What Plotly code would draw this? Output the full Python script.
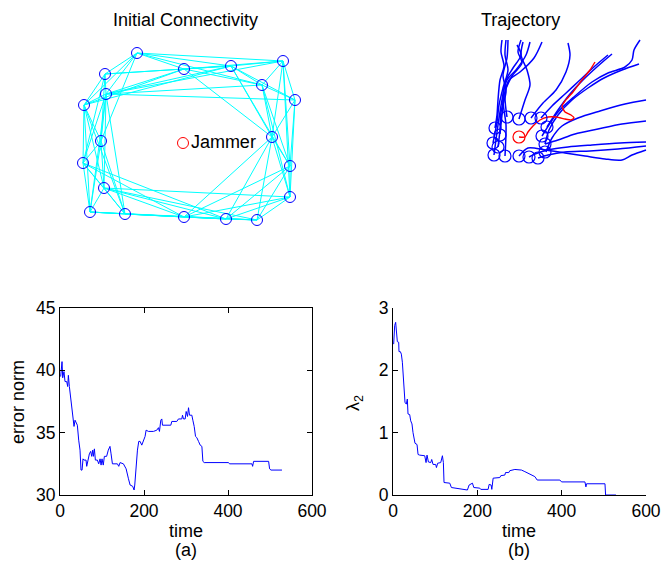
import plotly.graph_objects as go

FONT = "Liberation Sans, Arial, sans-serif"
W, H = 665, 565
OFF = 0

# ---------------- Initial connectivity (node positions) ----------------
node_x = [137, 105, 106, 84, 101, 83, 104, 90, 125, 184, 226, 257, 290, 290, 272, 295, 262, 283, 231, 184]
node_y = [53, 74, 94, 105, 141, 163, 188, 212, 214, 217, 219, 220, 197, 166, 137, 100, 85, 61, 66, 69]
edges = [(0, 1), (0, 2), (0, 3), (0, 4), (1, 2), (1, 3), (1, 4), (1, 5), (2, 3), (2, 4), (2, 5), (2, 6),
         (2, 7), (2, 8), (3, 4), (3, 5), (3, 6), (3, 7), (3, 8), (4, 5), (4, 6), (4, 7), (4, 8), (5, 6),
         (5, 7), (5, 8), (6, 7), (6, 8), (7, 8),
         (5, 9), (5, 10), (6, 9), (6, 10), (6, 11), (6, 12), (7, 9), (7, 10), (7, 11), (8, 9), (8, 10),
         (8, 11), (9, 10), (9, 11), (10, 11), (9, 12), (9, 13), (9, 14), (10, 12), (10, 13), (10, 14),
         (11, 12), (11, 13), (11, 14),
         (12, 13), (12, 14), (12, 15), (12, 16), (12, 17), (13, 14), (13, 15), (13, 16), (13, 17),
         (13, 18), (14, 15), (14, 16), (14, 17), (14, 18), (14, 19), (15, 16), (15, 17), (15, 18),
         (16, 17), (16, 18), (16, 19), (17, 18), (17, 19), (18, 19),
         (0, 19), (0, 18), (0, 17), (0, 16), (1, 19), (1, 18), (2, 19), (2, 18), (2, 17), (2, 16),
         (2, 15), (3, 19), (3, 18)]
jammer_x = [183]
jammer_y = [143]

# ---------------- Trajectories ----------------
traj_x = [
    [502, 501, 504, 500, 498, 497, 495],
    [506, 505, 508, 503, 499, 497, 493],
    [508, 507, 503, 506, 501, 500, 498],
    [517, 521, 513, 506, 502, 498, 494],
    [521, 518, 522, 512, 504, 502, 500],
    [530, 526, 516, 507, 503, 506, 505],
    [542, 534, 520, 509, 505, 507],
    [523, 521, 527, 530, 525, 519],
    [568, 570, 566, 556, 543, 531],
    [608, 595, 580, 565, 552, 541],
    [612, 598, 583, 570, 558, 547],
    [640, 634, 632, 625, 608, 592, 575, 558, 542],
    [639, 622, 604, 588, 572, 558, 549, 545],
    [646, 625, 600, 578, 562, 552, 546],
    [646, 622, 598, 575, 558, 545],
    [646, 620, 592, 568, 548, 535, 529],
    [646, 618, 590, 565, 548, 538],
    [646, 632, 622, 605, 585, 565, 545, 528, 519],
]
traj_y = [
    [40, 52, 66, 80, 100, 115, 128],
    [40, 55, 70, 88, 105, 122, 143],
    [40, 58, 75, 92, 112, 130, 147],
    [45, 55, 68, 80, 100, 125, 155],
    [40, 52, 63, 76, 95, 115, 134],
    [42, 55, 70, 80, 100, 125, 156],
    [42, 58, 72, 80, 95, 117],
    [42, 55, 70, 85, 100, 119],
    [43, 55, 72, 90, 103, 118],
    [55, 66, 80, 94, 106, 118],
    [54, 66, 80, 94, 110, 127],
    [40, 50, 60, 67, 73, 82, 96, 112, 136],
    [64, 70, 78, 88, 100, 115, 130, 144],
    [100, 104, 111, 118, 126, 138, 152],
    [121, 124, 129, 134, 140, 144],
    [142, 143, 145, 147, 150, 154, 157],
    [146, 149, 151, 152, 155, 158],
    [150, 155, 160, 159, 156, 153, 150, 148, 156],
]
final_x = [495, 507, 519, 531, 541, 547, 542, 493, 498, 494, 505, 519, 529, 538, 545, 545, 500]
final_y = [128, 117, 119, 118, 118, 127, 136, 143, 147, 155, 156, 156, 157, 158, 152, 144, 135]
jam_tx = [595, 590, 582, 573, 565, 562, 565, 571, 574, 571, 565, 556, 548, 540, 533, 528, 525, 519]
jam_ty = [62, 70, 80, 92, 101, 106, 112, 115, 118, 120, 119, 117, 117, 120, 126, 132, 137, 137]

# ---------------- Error norm ----------------
err_t = [1.6, 4.8, 6.4, 9.5, 11.9, 15.9, 18.3, 19.9, 22.3, 25.4, 30.2, 33.4, 35.8, 38.1, 41.3, 44.5,
         47.7, 50, 52.5, 54.8, 57.2, 62, 63.6, 66.8, 69.9, 73.1, 75.5, 77.9, 79.5, 81.9, 84.2, 89,
         92.2, 95.4, 97.8, 100, 103, 105.7, 111, 115, 119, 121.6, 124.8, 131, 136.7, 139.9, 143, 151,
         157.4, 163, 166.9, 173, 176.4, 178, 181.2, 184.4, 187.5, 190.7, 194.7, 198.7, 202.6, 205,
         210.6, 222.5, 230.5, 234.4, 236.8, 240, 242.4, 244, 254.3, 263.8, 266.2, 278.1, 282, 290,
         291.7, 294, 298, 300.4, 303.6, 306, 308.4, 313.9, 316.3, 319.5, 322.7, 325.8, 329.8, 333.8,
         337.8, 340.2, 343.3, 401.3, 403.6, 457, 458.6, 461, 496.7, 499, 502.3, 528.5]
err_v = [39.5, 40.7, 39.4, 39.9, 39.1, 39.1, 38.7, 39.6, 38.7, 37.9, 36.3, 35.5, 36.0, 35.8, 35.6, 34.4,
         33.6, 32.0, 32.0, 32.9, 32.8, 32.8, 32.3, 32.8, 33.3, 33.5, 33.1, 33.6, 33.1, 33.7, 32.8, 32.8,
         32.5, 32.9, 32.4, 32.9, 32.4, 33.1, 33.1, 33.6, 33.9, 33.3, 32.5, 32.5, 32.5, 32.3, 32.6, 32.5,
         32.1, 31.3, 30.8, 30.7, 30.4, 30.8, 32.3, 33.6, 34.3, 34.3, 34.0, 34.4, 34.7, 35.2,
         35.1, 35.1, 35.2, 35.4, 35.1, 36.0, 36.1, 35.6, 35.6, 35.6, 35.9, 35.9, 36.1, 36.1,
         36.4, 36.1, 36.1, 36.7, 36.3, 37.0, 36.4, 36.4, 36.0, 35.5, 34.7, 34.6, 34.3, 34.0,
         33.9, 32.7, 32.6, 32.6, 32.5, 32.5, 32.3, 32.7, 32.7, 32.1, 32.0, 32.0]

# ---------------- lambda_2 ----------------
lam_t = [1.6, 4, 6.3, 8.7, 10.3, 13.5, 14.2, 17.4, 19.8, 22.2, 25.3, 28.5, 31.7, 34, 35.6, 39.6, 42,
         45, 47.5, 50, 52.2, 57, 59.4, 63.3, 75.2, 78.4, 80.7, 84, 89.5, 91.8, 95, 101.3, 103, 106,
         113.2, 117.2, 119.5, 121, 134.6, 138.5, 150.4, 174, 176.5, 180.5, 188.4, 191.6, 205.8, 208.2,
         225.6, 228, 232.7, 234.3, 237.5, 253.3, 255.7, 265.2, 266.8, 274.7, 277, 289, 297, 304.8,
         312.7, 320.6, 328.5, 336.4, 342, 395.8, 399.8, 455.2, 457.5, 459, 502.7, 504.2, 528.8]
lam_v = [2.42, 2.72, 2.77, 2.61, 2.46, 2.45, 2.30, 2.30, 2.26, 2.13, 1.81, 1.48, 1.46, 1.54, 1.30, 1.29,
         1.19, 1.14, 1.00, 0.89, 0.83, 0.81, 0.65, 0.64, 0.63, 0.52, 0.64, 0.53, 0.52, 0.57, 0.49, 0.49,
         0.44, 0.51, 0.52, 0.63, 0.52, 0.20, 0.19, 0.12, 0.11, 0.09, 0.08, 0.16, 0.19, 0.12, 0.11, 0.09,
         0.09, 0.17, 0.16, 0.09, 0.27, 0.28, 0.31, 0.32, 0.36, 0.36, 0.39, 0.41, 0.41, 0.40,
         0.375, 0.35, 0.32, 0.295, 0.24, 0.24, 0.21, 0.21, 0.13, 0.18, 0.18, 0.0, 0.0]

x_ticks = [0, 200, 400, 600]
err_ticks = [30, 35, 40, 45]
lam_ticks = [0, 1, 2, 3]

BLUE = "rgb(0,0,255)"
CYAN = "rgb(0,255,255)"
RED = "rgb(255,0,0)"
TXT = 18
TICK = 17.5

fig = go.Figure()

# network edges
ex, ey = [], []
for a, b in edges:
    ex += [node_x[a], node_x[b], None]
    ey += [node_y[a], node_y[b], None]
fig.add_trace(go.Scatter(x=ex, y=ey, mode="lines", line=dict(color=CYAN, width=1),
                         xaxis="x", yaxis="y", hoverinfo="skip"))
fig.add_trace(go.Scatter(x=node_x, y=node_y, mode="markers",
                         marker=dict(symbol="circle-open", size=11, color=BLUE, line=dict(width=1)),
                         xaxis="x", yaxis="y"))
fig.add_trace(go.Scatter(x=jammer_x, y=jammer_y, mode="markers+text", text=["Jammer"],
                         textposition="middle right",
                         textfont=dict(family=FONT, size=TXT, color="black"),
                         marker=dict(symbol="circle-open", size=11, color=RED, line=dict(width=1)),
                         xaxis="x", yaxis="y"))

# trajectories
for tx, ty in zip(traj_x, traj_y):
    fig.add_trace(go.Scatter(x=tx, y=ty, mode="lines",
                             line=dict(color=BLUE, width=1.5, shape="spline", smoothing=0.8),
                             xaxis="x2", yaxis="y2"))
fig.add_trace(go.Scatter(x=jam_tx, y=jam_ty, mode="lines",
                         line=dict(color=RED, width=1.4, shape="spline", smoothing=0.5),
                         xaxis="x2", yaxis="y2"))
fig.add_trace(go.Scatter(x=final_x, y=final_y, mode="markers",
                         marker=dict(symbol="circle-open", size=12, color=BLUE, line=dict(width=1.2)),
                         xaxis="x2", yaxis="y2"))
fig.add_trace(go.Scatter(x=[jam_tx[-1]], y=[jam_ty[-1]], mode="markers",
                         marker=dict(symbol="circle-open", size=12, color=RED, line=dict(width=1.2)),
                         xaxis="x2", yaxis="y2"))

# error norm
fig.add_trace(go.Scatter(x=err_t, y=err_v, mode="lines", line=dict(color=BLUE, width=1),
                         xaxis="x3", yaxis="y3"))
# lambda 2
fig.add_trace(go.Scatter(x=lam_t, y=lam_v, mode="lines", line=dict(color=BLUE, width=1),
                         xaxis="x4", yaxis="y4"))


def px_x(p):
    return (p - OFF) / W


def px_y(p):
    return (H - (p - OFF)) / H


hidden = dict(visible=False)
tick_common = dict(ticks="inside", ticklen=5, tickcolor="black", showline=True, linecolor="black",
                   linewidth=1, showgrid=False, zeroline=False, automargin=False,
                   tickfont=dict(family=FONT, size=TICK, color="black"))

fig.update_layout(
    width=W, height=H, margin=dict(l=0, r=0, t=0, b=0, pad=0, autoexpand=False),
    paper_bgcolor="white", plot_bgcolor="rgba(0,0,0,0)", showlegend=False,
    font=dict(family=FONT, size=TXT, color="black"),
    xaxis=dict(domain=[px_x(60), px_x(320)], range=[60, 320], anchor="y", **hidden),
    yaxis=dict(domain=[px_y(230), px_y(30)], range=[230, 30], anchor="x", **hidden),
    xaxis2=dict(domain=[px_x(470), px_x(657)], range=[470, 657], anchor="y2", **hidden),
    yaxis2=dict(domain=[px_y(180), px_y(30)], range=[180, 30], anchor="x2", **hidden),
    xaxis3=dict(domain=[px_x(60), px_x(312)], range=[0, 600], tickvals=x_ticks, anchor="y3",
                mirror="ticks", **tick_common),
    yaxis3=dict(domain=[px_y(495), px_y(308)], range=[30, 45], tickvals=err_ticks, anchor="x3",
                mirror="ticks", **tick_common),
    xaxis4=dict(domain=[px_x(393), px_x(646)], range=[0, 600], tickvals=x_ticks, anchor="y4",
                **tick_common),
    yaxis4=dict(domain=[px_y(495), px_y(308)], range=[0, 3], tickvals=lam_ticks, anchor="x4",
                **tick_common),
)

ann = [
    dict(text="Initial Connectivity", x=px_x(186), y=px_y(20)),
    dict(text="Trajectory", x=px_x(520), y=px_y(20)),
    dict(text="time", x=px_x(186), y=px_y(531)),
    dict(text="(a)", x=px_x(186), y=px_y(550)),
    dict(text="time", x=px_x(519), y=px_y(531)),
    dict(text="(b)", x=px_x(519), y=px_y(550)),
    dict(text="error norm", x=px_x(18), y=px_y(402), textangle=-90),
    dict(text="λ<sub>2</sub>", x=px_x(354), y=px_y(403), textangle=-90),
]
for a in ann:
    fig.add_annotation(xref="paper", yref="paper", showarrow=False, xanchor="center", yanchor="middle",
                       font=dict(family=FONT, size=TXT, color="black"), **a)

fig.write_html("out.html", config={"displayModeBar": False},
               post_script="document.body.style.margin='0px';document.body.style.overflow='hidden';")
